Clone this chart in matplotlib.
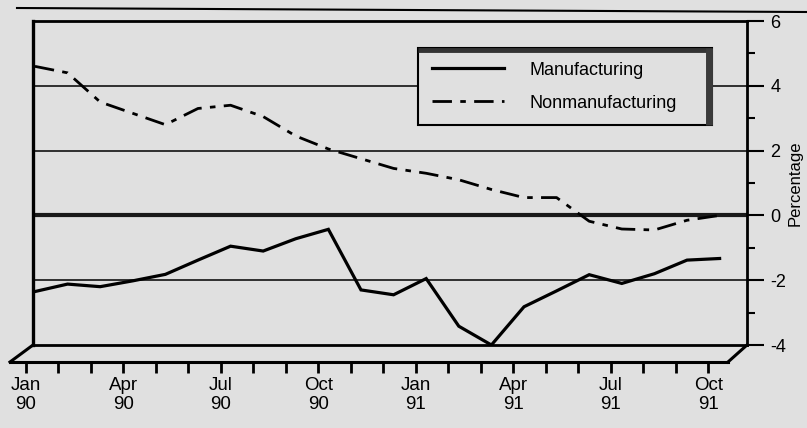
import matplotlib
matplotlib.use('Agg')
import matplotlib.pyplot as plt
from matplotlib.lines import Line2D
from matplotlib.ticker import MultipleLocator

# monthly values, Jan 90 .. Oct 91 (percentage)
months = list(range(22))
quarter_pos = [0, 3, 6, 9, 12, 15, 18, 21]
quarter_labels = ['Jan\n90', 'Apr\n90', 'Jul\n90', 'Oct\n90',
                  'Jan\n91', 'Apr\n91', 'Jul\n91', 'Oct\n91']
manufacturing = [-2.35, -2.12, -2.2, -2.02, -1.82, -1.38, -0.95, -1.1, -0.72, -0.43, -2.3,
                 -2.45, -1.95, -3.42, -4.0, -2.82, -2.33, -1.83, -2.1, -1.8, -1.38, -1.33]
nonmanufacturing = [4.6, 4.4, 3.5, 3.15, 2.8, 3.3, 3.4, 3.05, 2.45, 2.05, 1.75,
                    1.45, 1.3, 1.1, 0.8, 0.55, 0.55, -0.18, -0.42, -0.45, -0.15, 0.0]
y_ticks = [-4, -2, 0, 2, 4, 6]
grid_levels = [4, 2, -2]

plt.rcParams['font.family'] = ['Liberation Sans', 'DejaVu Sans']
plt.rcParams['axes.unicode_minus'] = False
tick_size = 13.5
right_size = 13
bg = '#e0e0e0'

W, H = 807, 428
fig = plt.figure(figsize=(W / 100, H / 100), dpi=100, facecolor=bg)


def box(x0, y0, x1, y1):
    # pixel box (top-left origin) -> figure fraction
    return [x0 / W, 1 - y1 / H, (x1 - x0) / W, (y1 - y0) / H]


# back wall
ax = fig.add_axes(box(33, 21, 747, 345))
ax.set_facecolor(bg)
ax.set_xlim(-0.06, 21.84)
ax.set_ylim(-4, 6)

for lv in grid_levels:
    ax.axhline(lv, color='black', lw=1.1, zorder=1)
ax.axhline(0, color='#1a1a1a', lw=3.0, zorder=1)

ax.plot(months, manufacturing, color='black', lw=2.3, label='Manufacturing',
        solid_joinstyle='miter', zorder=3)
ax.plot(months, nonmanufacturing, color='black', lw=2.0, label='Nonmanufacturing',
        dashes=(7, 3, 2, 3), zorder=3)

for side in ['left', 'right', 'top', 'bottom']:
    ax.spines[side].set_linewidth(2.0)
ax.spines['left'].set_linewidth(2.4)

ax.set_xticks([])
ax.yaxis.tick_right()
ax.yaxis.set_label_position('right')
ax.set_yticks(y_ticks)
ax.set_yticklabels([str(v) for v in y_ticks])
ax.yaxis.set_minor_locator(MultipleLocator(1))
ax.tick_params(axis='y', which='major', direction='out', length=12, width=1.5,
               pad=5, labelsize=right_size)
ax.tick_params(axis='y', which='minor', direction='out', length=6, width=1.5)
ax.set_ylabel('Percentage', fontsize=12, labelpad=1)

# floor slants
ax.add_line(Line2D([0, -23 / 714], [0, -17 / 324], transform=ax.transAxes,
                   color='black', lw=2.2, clip_on=False))
ax.add_line(Line2D([1, (728 - 33) / 714], [0, -17 / 324], transform=ax.transAxes,
                   color='black', lw=2.2, clip_on=False))

# legend
leg = ax.legend(loc='upper left',
                bbox_to_anchor=((418 - 33) / 714, (345 - 130) / 324, (712 - 418) / 714, (130 - 48) / 324),
                mode='expand', borderaxespad=0, fancybox=False, framealpha=1,
                facecolor=bg, edgecolor='black',
                prop={'family': ['Liberation Sans', 'DejaVu Sans'], 'size': 13},
                handlelength=4.0, handletextpad=1.4, labelspacing=0.9, borderpad=0.75)
leg.get_frame().set_linewidth(1.5)
leg.set_zorder(5)

# front edge of floor with month ticks
ax2 = fig.add_axes(box(10, 361, 728, 362))
ax2.set_xlim(-0.49, 21.6)
ax2.patch.set_visible(False)
for side in ['left', 'right', 'top']:
    ax2.spines[side].set_visible(False)
ax2.spines['bottom'].set_linewidth(2.2)
ax2.set_yticks([])
ax2.set_xticks(months, minor=True)
ax2.set_xticks(quarter_pos)
ax2.set_xticklabels(quarter_labels, fontsize=tick_size, linespacing=1.12)
ax2.tick_params(axis='x', which='both', direction='out', length=8, width=2, pad=3)

# top rule
fig.add_artist(Line2D([17 / W, 1], [1 - 8 / H, 1 - 12 / H], color='black', lw=1.5))

# legend shadow (dark top and right border)
fig.canvas.draw()
bb = leg.get_frame().get_window_extent().transformed(fig.transFigure.inverted())
fig.add_artist(Line2D([bb.x0, bb.x1], [bb.y1 - 0.004, bb.y1 - 0.004], color='#333333', lw=3.5,
                      solid_capstyle='butt', zorder=6))
fig.add_artist(Line2D([bb.x1 - 0.004, bb.x1 - 0.004], [bb.y0, bb.y1], color='#3a3a3a', lw=5,
                      solid_capstyle='butt', zorder=6))

fig.savefig('out.png', dpi=100, facecolor=fig.get_facecolor())
